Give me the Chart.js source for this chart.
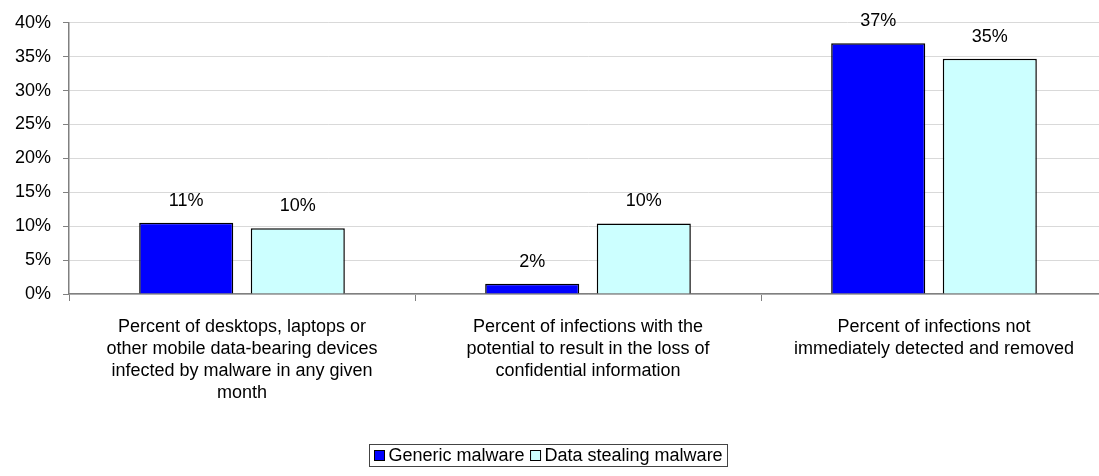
<!DOCTYPE html>
<html>
<head>
<meta charset="utf-8">
<script src="https://cdn.jsdelivr.net/npm/chart.js@4/dist/chart.umd.min.js"></script>
<style>
  html, body { margin: 0; padding: 0; background: #fff; overflow: hidden; }
  #wrap { width: 1099px; height: 476px; overflow: hidden; position: relative; }
  #box { width: 1110px; height: 476px; }
</style>
</head>
<body>
<div id="wrap"><div id="box"><canvas id="myChart"></canvas></div></div>
<script>
// categories (already wrapped the way the original shows them)
var categories = [
    ['Percent of desktops, laptops or', 'other mobile data-bearing devices', 'infected by malware in any given', 'month'],
    ['Percent of infections with the', 'potential to result in the loss of', 'confidential information'],
    ['Percent of infections not', 'immediately detected and removed']
];
var seriesNames = ['Generic malware', 'Data stealing malware'];
var genericMalware = [10.5, 1.5, 37.0];
var dataStealingMalware = [9.7, 10.4, 34.7];
var yTicks = [0, 5, 10, 15, 20, 25, 30, 35, 40];

var FONT = 'Liberation Sans, Arial, sans-serif';

// valeurs au-dessus des barres
var barValues = {
    id: 'barValues',
    afterDatasetsDraw: function (chart) {
        var ctx = chart.ctx;
        ctx.save();
        ctx.font = '18px ' + FONT;
        ctx.fillStyle = '#000';
        ctx.textAlign = 'center';
        ctx.textBaseline = 'middle';
        chart.data.datasets.forEach(function (ds, i) {
            chart.getDatasetMeta(i).data.forEach(function (bar, j) {
                ctx.fillText(Math.round(ds.data[j]) + '%', bar.x, bar.y - 22);
            });
        });
        ctx.restore();
    }
};

// légende encadrée en bas
var boxedLegend = {
    id: 'boxedLegend',
    afterDraw: function (chart) {
        var ctx = chart.ctx;
        ctx.save();
        ctx.font = '18px ' + FONT;
        var sq = 10, gapIn = 4, gapOut = 6, pad = 5;
        var widths = chart.data.datasets.map(function (ds) { return ctx.measureText(ds.label).width; });
        var total = pad * 2;
        widths.forEach(function (w, i) { total += sq + gapIn + w + (i > 0 ? gapOut : 0); });
        var cx = 548.5, top = 444, h = 22;
        var left = Math.round(cx - total / 2) + 0.5;
        ctx.strokeStyle = '#444';
        ctx.lineWidth = 1;
        ctx.strokeRect(left, top + 0.5, Math.round(total), h);
        var x = left + pad;
        ctx.textBaseline = 'middle';
        ctx.textAlign = 'left';
        chart.data.datasets.forEach(function (ds, i) {
            if (i > 0) x += gapOut;
            ctx.fillStyle = ds.backgroundColor;
            ctx.fillRect(x, top + 6, sq, sq);
            ctx.strokeStyle = '#000';
            ctx.strokeRect(x, top + 6.5, sq, sq);
            x += sq + gapIn;
            ctx.fillStyle = '#000';
            ctx.fillText(ds.label, x, top + h / 2 + 1);
            x += widths[i];
        });
        ctx.restore();
    }
};

document.addEventListener('DOMContentLoaded', function () {
    var ctx = document.getElementById('myChart').getContext('2d');
    var myChart = new Chart(ctx, {
        type: 'bar',
        data: {
            labels: categories,
            datasets: [{
                label: seriesNames[0],
                data: genericMalware,
                backgroundColor: '#0000ff',
                borderColor: '#000',
                borderWidth: 1.5
            }, {
                label: seriesNames[1],
                data: dataStealingMalware,
                backgroundColor: '#ccffff',
                borderColor: '#000',
                borderWidth: 1.5
            }]
        },
        options: {
            responsive: true,
            maintainAspectRatio: false,
            animation: false,
            categoryPercentage: 0.645,
            barPercentage: 0.843,
            layout: { padding: { top: 20, right: 3, left: 0, bottom: 0 } },
            plugins: {
                legend: { display: false },
                tooltip: { enabled: false }
            },
            scales: {
                x: {
                    grid: {
                        offset: true,
                        drawOnChartArea: false,
                        drawTicks: true,
                        tickLength: 7,
                        tickColor: '#808080'
                    },
                    border: { color: '#808080', width: 1.5 },
                    ticks: {
                        autoSkip: false,
                        maxRotation: 0,
                        padding: 15,
                        color: '#000',
                        font: { family: FONT, size: 18, lineHeight: '22px' }
                    },
                    afterFit: function (s) { s.height = 182; }
                },
                y: {
                    min: 0,
                    max: 40,
                    afterBuildTicks: function (s) {
                        s.ticks = yTicks.map(function (v) { return { value: v }; });
                    },
                    grid: {
                        color: '#d9d9d9',
                        tickColor: '#808080',
                        tickLength: 6
                    },
                    border: { color: '#808080', width: 1.5 },
                    ticks: {
                        padding: 12,
                        color: '#000',
                        font: { family: FONT, size: 18 },
                        callback: function (v) { return v + '%'; }
                    },
                    afterFit: function (s) { s.width = 69; }
                }
            }
        },
        plugins: [barValues, boxedLegend]
    });
});
</script>
</body>
</html>
